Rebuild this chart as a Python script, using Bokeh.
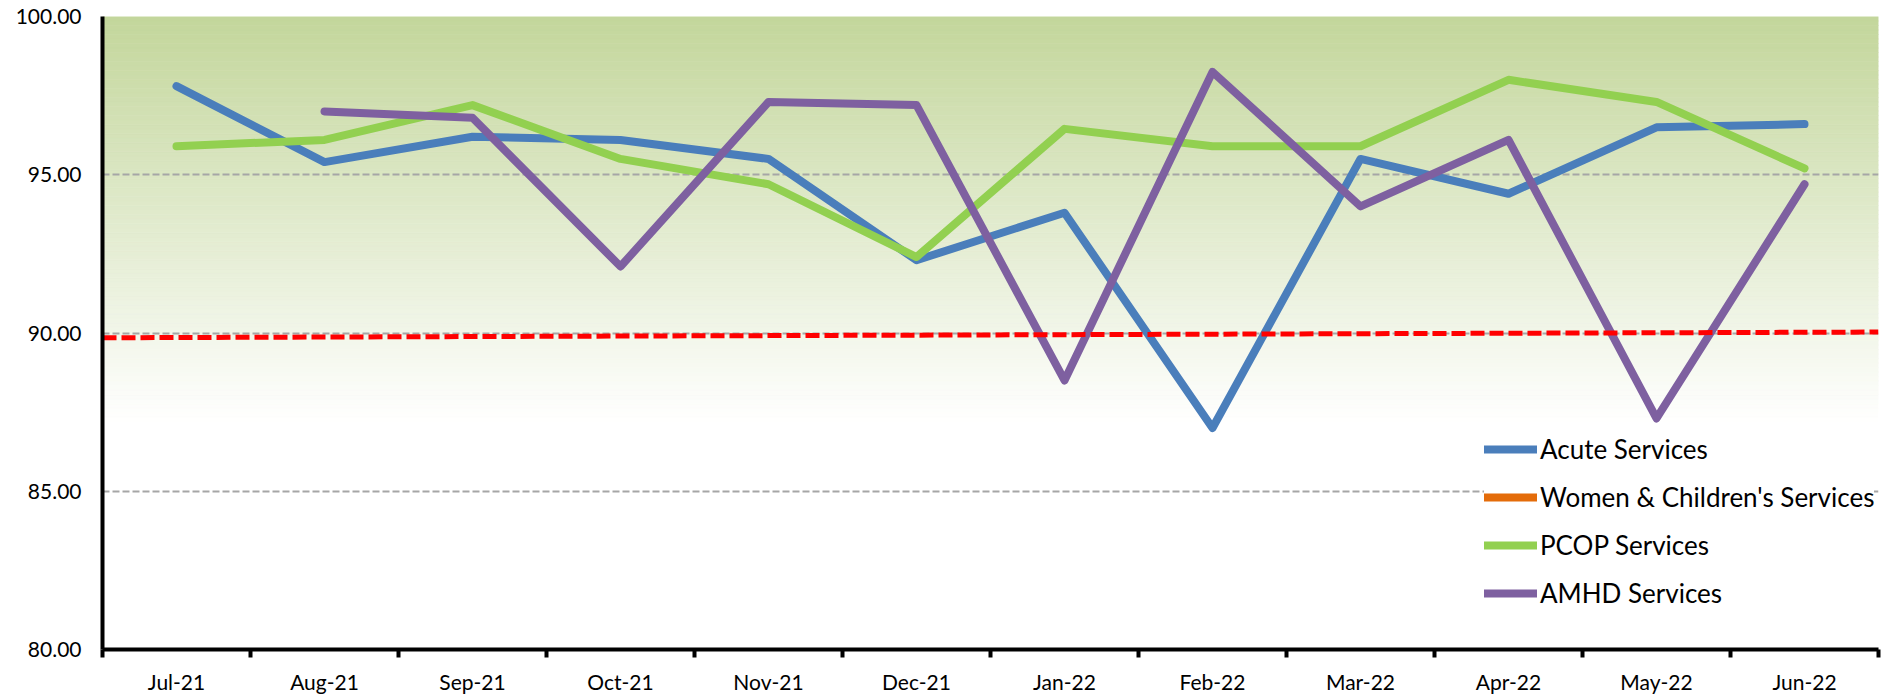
import numpy as np
from bokeh.plotting import figure
from bokeh.models import (Range1d, LinearAxis, FixedTicker, NumeralTickFormatter,
                          Legend, LegendItem, Grid)
from bokeh.embed import file_html
from bokeh.resources import INLINE

# ---------------- data ----------------
months = ["Jul-21", "Aug-21", "Sep-21", "Oct-21", "Nov-21", "Dec-21",
          "Jan-22", "Feb-22", "Mar-22", "Apr-22", "May-22", "Jun-22"]
acute = [97.8, 95.4, 96.2, 96.1, 95.5, 92.3, 93.8, 87.0, 95.5, 94.4, 96.5, 96.6]
women_children = [None] * 12
pcop = [95.9, 96.1, 97.2, 95.5, 94.7, 92.4, 96.45, 95.9, 95.9, 98.0, 97.3, 95.2]
amhd = [None, 97.0, 96.8, 92.1, 97.3, 97.2, 88.5, 98.25, 94.0, 96.1, 87.3, 94.7]
target_x = [-0.5, 11.5]        # red target line, start and end (category units)
target_y = [89.85, 90.03]
y_ticks = [80, 85, 90, 95, 100]

FONT = "Lato"
nan = float("nan")


def arr(v):
    return [nan if a is None else a for a in v]


x = list(range(len(months)))
x_lo, x_hi = -0.5, len(months) - 0.5

p = figure(frame_width=1776, frame_height=633, output_backend="svg", toolbar_location=None,
           x_range=Range1d(x_lo, x_hi), y_range=Range1d(80, 100),
           x_axis_type=None, y_axis_type=None,
           min_border_left=102, min_border_right=16, min_border_top=16, min_border_bottom=20)
p.outline_line_color = None
p.background_fill_color = "white"
p.border_fill_color = "white"

# ---------------- gradient background (decoration) ----------------
GRAD_LOW = 87.2
top_rgb = np.array([195, 214, 155])
white = np.array([255, 255, 255])
n = 90
edges = np.linspace(GRAD_LOW, 100, n + 1)
mids = (edges[:-1] + edges[1:]) / 2
cols = []
for m in mids:
    t = (m - GRAD_LOW) / (100 - GRAD_LOW)
    c = white + t * (top_rgb - white)
    cols.append("#%02x%02x%02x" % tuple(int(round(v)) for v in c))
p.quad(left=x_lo, right=x_hi, bottom=edges[:-1], top=edges[1:],
       fill_color=cols, line_color=cols, line_width=0.6, level="image")

# ---------------- axes ----------------
xaxis = LinearAxis(
    ticker=FixedTicker(ticks=x, minor_ticks=[i - 0.5 for i in range(len(months) + 1)]),
    major_label_overrides={i: m for i, m in enumerate(months)},
    axis_line_width=4, axis_line_color="black",
    major_tick_line_color=None, major_tick_out=0, major_tick_in=0,
    minor_tick_line_color="black", minor_tick_line_width=4, minor_tick_out=8, minor_tick_in=0,
    major_label_text_font=FONT, major_label_text_font_size="21px",
    major_label_text_color="black", major_label_standoff=11)
p.add_layout(xaxis, "below")

yaxis = LinearAxis(
    ticker=FixedTicker(ticks=y_ticks), formatter=NumeralTickFormatter(format="0.00"),
    axis_line_width=4, axis_line_color="black",
    major_tick_line_color=None, major_tick_out=0, major_tick_in=0,
    minor_tick_line_color=None,
    major_label_text_font=FONT, major_label_text_font_size="21px",
    major_label_text_color="black", major_label_standoff=21)
p.add_layout(yaxis, "left")

p.add_layout(Grid(dimension=1, ticker=yaxis.ticker, grid_line_color="#A6A6A6",
                  grid_line_dash="7 3", grid_line_width=2))

# ---------------- series ----------------
style = dict(line_width=8, line_cap="round", line_join="round")
r_acute = p.line(x, arr(acute), line_color="#4A7EBB", **style)
r_wc = p.line(x, arr(women_children), line_color="#E46C0A", **style)
r_pcop = p.line(x, arr(pcop), line_color="#92D050", **style)
r_amhd = p.line(x, arr(amhd), line_color="#7E60A0", **style)

# red target line
p.line(target_x, target_y, line_color="#FF0000", line_width=5, line_dash="14 5")

legend = Legend(items=[
    LegendItem(label="Acute Services", renderers=[r_acute]),
    LegendItem(label="Women & Children's Services", renderers=[r_wc]),
    LegendItem(label="PCOP Services", renderers=[r_pcop]),
    LegendItem(label="AMHD Services", renderers=[r_amhd]),
], location=(1382, 36), orientation="vertical",
    label_text_font=FONT, label_text_font_size="26px", label_text_color="black",
    glyph_width=53, glyph_height=20, label_standoff=3, label_height=40, spacing=8,
    padding=6, margin=0, border_line_color=None,
    background_fill_color="white", background_fill_alpha=1.0)
p.add_layout(legend)

open("out.html", "w").write(file_html(p, INLINE))
